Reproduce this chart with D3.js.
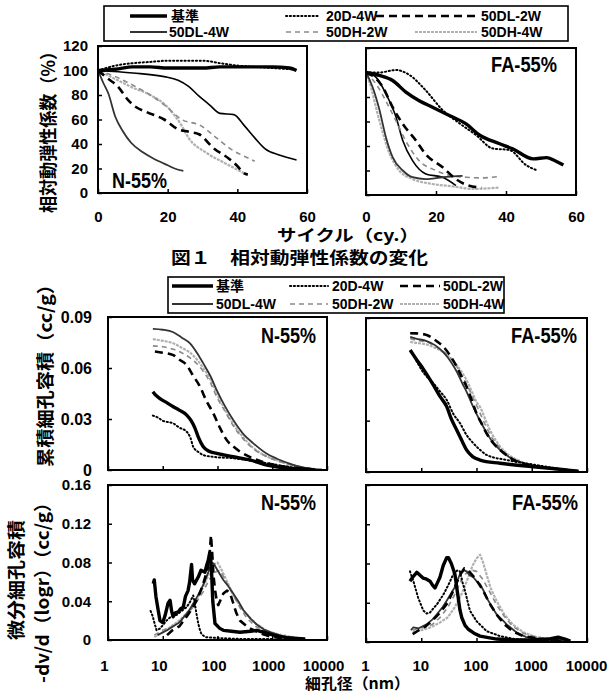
<!DOCTYPE html>
<html><head><meta charset="utf-8">
<script src="https://cdn.jsdelivr.net/npm/d3@7"></script>
<style>
body{margin:0;background:#fff;}
svg{display:block;}
.num{font-family:"Liberation Sans",Arial,sans-serif;font-weight:bold;}
.jp{font-family:"Noto Sans CJK JP","Noto Sans CJK SC",sans-serif;font-weight:bold;}
</style></head>
<body>
<script>
// ---------------- DATA ----------------
const seriesNames = ["基準","20D-4W","50DL-2W","50DL-4W","50DH-2W","50DH-4W"];
const cycleTicks = [0,20,40,60];
const rdmTicks = [0,20,40,60,80,100,120];
const cumTicks = [0,0.03,0.06,0.09];
const cumTickLabels = ["0","0.03","0.06","0.09"];
const diffTicks = [0,0.04,0.08,0.12,0.16];
const diffTickLabels = ["0","0.04","0.08","0.12","0.16"];
const poreTicks = [1,10,100,1000,10000];
const panelLabels = ["N-55%","FA-55%"];

// Fig.1 relative dynamic modulus [cycle, %]
const rdmN = {
 "基準":[[0,100],[5,101],[10,103],[15,103],[20,102],[25,102],[30,102],[35,103],[40,103],[45,103],[50,103],[55,102],[57,100]],
 "20D-4W":[[0,100],[5,104],[10,106],[15,107],[20,108],[25,108],[30,108],[35,106],[40,104],[45,103],[50,102],[56,101]],
 "50DL-2W":[[0,100],[3,93],[5.7,87],[8.6,76],[11,70],[14,66],[19,60],[23,52],[26,50],[29,48],[33,37],[37.6,28],[40,22],[42,16],[43,15]],
 "50DL-4W":[[0,100],[1.5,90],[3,81],[5,62],[7,51],[9.5,41],[13,33],[16,28],[19,24],[22,20],[24.5,18]],
 "50DH-2W":[[0,100],[5,95],[10,88],[15,80],[19,72],[24,60],[29.5,55],[34,45],[38.6,35],[42,30],[45,26]],
 "50DH-4W":[[0,100],[5,93],[10,86],[15,80],[20,70],[24,55],[26,45],[31,33],[36,25],[40,19],[42,16]]
};
const rdmNUnlabeled = [[0,100],[10,98],[19,95],[23,92],[26,87],[29,79],[32,72],[35,65],[39,64],[42,55],[45,45],[48,36],[52,31],[57,27]];
const rdmFA = {
 "基準":[[0,100],[3.8,97.6],[7.6,93.5],[11.4,84],[15.2,77],[19,71.7],[23.8,64.9],[28.6,58],[32.4,49],[38,42],[41.9,37.7],[47.8,29.5],[51.6,30.5],[54,28],[56.4,24.5]],
 "20D-4W":[[0,100],[3.8,100],[8.6,102],[12.4,98],[17,85.6],[21.9,69.3],[26.7,58.5],[31.4,49],[36.2,38],[41,36.7],[45.7,24.5],[49,20]],
 "50DL-2W":[[0,100],[2.5,96],[4.8,88],[7.6,71.7],[10.5,58],[14.3,44.4],[17,33.5],[21.9,22.6],[25.7,13],[29,8],[33,6]],
 "50DL-4W":[[0,100],[1.9,88],[3.8,70],[5.7,47],[7.6,31],[10.5,20],[13.3,14.5],[17,13],[21.9,14.5],[27.6,15.6]],
 "50DH-2W":[[0,100],[3,90],[6,75],[9,58],[11.4,44],[15.2,28],[20,20],[23.8,16],[28.6,14.5],[32.9,14],[37.6,15]],
 "50DH-4W":[[0,100],[1,92],[3.8,61],[6.7,34],[9.5,20],[13.3,13],[19,9],[24.8,7],[30.5,5],[38,6]]
};
const rdmFAUnlabeled = [[0,100],[2.9,96],[5.7,82.6],[8.6,63.5],[10.5,44.4],[13.3,28],[17.1,17.2],[21.9,14.5],[25.7,7.7]];

// cumulative pore volume [nm, cc/g]
const cumN = {
 "基準":[[6.6,0.046],[7.2,0.0445],[8.9,0.042],[12,0.0395],[15.6,0.0372],[20,0.0352],[27.4,0.0323],[33,0.029],[38.9,0.0245],[45,0.019],[55,0.0137],[70,0.011],[96.7,0.0098],[194,0.0078],[392,0.0059],[793,0.0029],[2080,0.001],[5000,0.0003]],
 "20D-4W":[[6.6,0.032],[8,0.031],[10,0.029],[15.6,0.0274],[20,0.025],[27.4,0.0225],[32,0.019],[36,0.0137],[45,0.0105],[55,0.0088],[80,0.0078],[194,0.0069],[400,0.0055],[800,0.004],[1500,0.0025],[3000,0.001],[6000,0.0003]],
 "50DL-2W":[[7.2,0.0697],[10,0.069],[15.6,0.0676],[20,0.065],[27.4,0.0617],[35,0.056],[48,0.049],[62,0.041],[84,0.0333],[110,0.025],[147,0.0176],[200,0.0135],[258,0.0108],[400,0.0075],[793,0.004],[1500,0.0022],[3000,0.001],[6000,0.0003]],
 "50DL-4W":[[6.6,0.083],[10,0.0825],[15.6,0.081],[22,0.078],[31.5,0.0745],[42,0.069],[55,0.0627],[75,0.055],[96.7,0.047],[140,0.037],[194,0.0294],[300,0.021],[451,0.0157],[800,0.0095],[1383,0.0059],[2200,0.0035],[3190,0.002],[5000,0.0008],[8000,0.0003]],
 "50DH-2W":[[6.6,0.073],[10,0.0725],[15.6,0.071],[22,0.069],[31.5,0.066],[42,0.0625],[55,0.058],[75,0.051],[96.7,0.043],[140,0.034],[194,0.026],[300,0.018],[451,0.0125],[800,0.0078],[1400,0.0048],[3000,0.002],[6000,0.0005]],
 "50DH-4W":[[6.6,0.077],[10,0.076],[15.6,0.0745],[22,0.072],[31.5,0.069],[42,0.065],[55,0.06],[75,0.053],[96.7,0.045],[140,0.035],[194,0.027],[300,0.019],[451,0.013],[800,0.008],[1400,0.005],[3000,0.002],[6000,0.0005]]
};
const cumFA = {
 "基準":[[6.3,0.0713],[7,0.069],[8.3,0.0655],[11,0.06],[16.5,0.0509],[22,0.044],[28.9,0.0382],[35,0.031],[43.8,0.0246],[55,0.018],[66,0.0129],[85,0.009],[116,0.007],[266,0.0051],[1070,0.0031],[4300,0.0012],[7000,0.0005]],
 "20D-4W":[[7,0.069],[8.5,0.064],[11,0.058],[16.5,0.0519],[22,0.047],[28.9,0.0421],[38,0.034],[50.4,0.0285],[65,0.022],[87.7,0.0168],[120,0.0125],[152,0.01],[352,0.007],[1000,0.0045],[3000,0.002],[7000,0.0005]],
 "50DL-2W":[[6.3,0.0811],[8,0.081],[12.5,0.0801],[18,0.077],[25,0.0733],[35,0.067],[43.8,0.0616],[55,0.055],[66,0.05],[82,0.042],[100,0.0343],[125,0.028],[152,0.0226],[200,0.017],[266,0.0129],[400,0.0085],[535,0.006],[1420,0.003],[4300,0.001],[7000,0.0003]],
 "50DL-4W":[[6.3,0.079],[8,0.078],[12.5,0.0765],[18,0.074],[25,0.07],[35,0.064],[45,0.058],[55,0.052],[66,0.047],[82,0.04],[100,0.034],[125,0.028],[152,0.023],[200,0.017],[266,0.013],[400,0.0085],[600,0.006],[1420,0.003],[4300,0.001],[7000,0.0003]],
 "50DH-2W":[[6.3,0.078],[8,0.077],[12.5,0.076],[18,0.0735],[25,0.0705],[35,0.066],[45,0.061],[55,0.056],[66,0.0515],[82,0.045],[100,0.039],[125,0.032],[152,0.026],[200,0.019],[266,0.014],[400,0.009],[600,0.006],[1420,0.003],[4300,0.001],[7000,0.0003]],
 "50DH-4W":[[6.3,0.076],[8,0.0755],[12.5,0.0745],[18,0.0725],[25,0.07],[35,0.066],[45,0.062],[55,0.058],[66,0.0538],[82,0.047],[100,0.041],[116,0.038],[152,0.029],[200,0.021],[266,0.015],[400,0.0095],[600,0.0065],[1420,0.003],[4300,0.001],[7000,0.0003]]
};

// differential pore volume [nm, cc/g]
const diffN = {
 "基準":[[6.7,0.058],[7,0.062],[7.5,0.045],[8.3,0.03],[8.9,0.02],[10,0.018],[11,0.025],[12.5,0.038],[13.6,0.041],[14.5,0.03],[15.5,0.024],[17,0.028],[19.3,0.029],[21,0.032],[23.7,0.034],[26,0.045],[29,0.051],[31,0.06],[33.6,0.078],[35,0.062],[38,0.058],[44.5,0.065],[50,0.072],[59,0.07],[64,0.078],[67.6,0.082],[72,0.09],[75,0.085],[78,0.07],[82,0.04],[90,0.017],[110,0.012],[128,0.01],[180,0.009],[258,0.008],[400,0.009],[520,0.01],[700,0.008],[1050,0.005],[2000,0.002],[4000,0.001]],
 "20D-4W":[[6,0.03],[6.5,0.025],[7.7,0.01],[9,0.012],[11.7,0.02],[14,0.024],[18,0.026],[22,0.03],[27.4,0.034],[32,0.04],[36,0.046],[38,0.04],[41,0.028],[44.5,0.017],[48,0.01],[51,0.006],[60,0.003],[100,0.002],[300,0.001],[1000,0.001]],
 "50DL-2W":[[12,0.005],[15,0.01],[20,0.014],[28,0.025],[36,0.034],[45,0.045],[55,0.058],[67,0.075],[72,0.09],[76,0.108],[80,0.09],[85,0.065],[90,0.052],[97,0.04],[103,0.036],[115,0.042],[128,0.048],[150,0.051],[170,0.048],[194,0.038],[220,0.028],[258,0.02],[330,0.015],[392,0.012],[600,0.007],[1000,0.003],[2000,0.001]],
 "50DL-4W":[[8,0.005],[12,0.01],[20,0.018],[30,0.03],[40,0.042],[50,0.052],[60,0.062],[70,0.072],[78,0.08],[85,0.079],[100,0.072],[128,0.062],[160,0.055],[194,0.048],[240,0.04],[296,0.031],[400,0.022],[520,0.016],[700,0.011],[1050,0.007],[1500,0.004],[2080,0.003],[4000,0.001]],
 "50DH-2W":[[7,0.005],[10,0.01],[15,0.014],[22,0.02],[30,0.028],[40,0.038],[55,0.05],[70,0.062],[90,0.07],[110,0.072],[130,0.065],[160,0.055],[200,0.045],[260,0.033],[350,0.022],[500,0.014],[800,0.008],[1500,0.004],[3000,0.002]],
 "50DH-4W":[[7,0.003],[10,0.008],[15,0.015],[20,0.02],[30,0.03],[40,0.04],[55,0.055],[70,0.068],[85,0.078],[100,0.08],[120,0.072],[150,0.06],[200,0.045],[300,0.03],[500,0.017],[800,0.009],[1500,0.005],[3000,0.002]]
};
const diffFA = {
 "基準":[[6.25,0.062],[7,0.066],[8.3,0.071],[9.5,0.068],[10.9,0.065],[12.5,0.064],[14.4,0.062],[16,0.058],[17.7,0.055],[19.5,0.06],[21.8,0.066],[25,0.078],[28.9,0.086],[31,0.086],[35,0.08],[40.7,0.069],[44,0.055],[46.7,0.045],[50,0.033],[54,0.025],[62,0.017],[71,0.013],[90,0.009],[116,0.006],[232,0.003],[500,0.002],[1000,0.002],[2000,0.003],[3000,0.005],[4000,0.003],[5000,0.001]],
 "20D-4W":[[6.25,0.072],[7.2,0.062],[8.8,0.045],[10.9,0.032],[12.5,0.029],[14.4,0.03],[17,0.035],[19,0.038],[25,0.048],[30.9,0.058],[38,0.069],[45,0.073],[50,0.072],[55,0.062],[62,0.052],[70,0.04],[76,0.032],[101,0.021],[153,0.011],[266,0.006],[500,0.003],[1000,0.002],[3000,0.001]],
 "50DL-2W":[[7,0.008],[9,0.012],[12,0.016],[16,0.022],[22,0.03],[30,0.04],[40,0.055],[50,0.068],[60,0.075],[70,0.073],[85,0.068],[100,0.063],[130,0.053],[170,0.04],[230,0.028],[320,0.018],[450,0.011],[700,0.006],[1500,0.003],[4000,0.001]],
 "50DL-4W":[[6.5,0.012],[7.2,0.015],[9,0.014],[12.5,0.018],[16,0.023],[19,0.028],[24,0.035],[28.9,0.042],[35,0.05],[40.7,0.056],[50,0.069],[60,0.073],[66,0.072],[75,0.068],[87.7,0.066],[100,0.062],[116,0.059],[135,0.052],[153,0.045],[190,0.036],[232,0.028],[300,0.022],[352,0.018],[450,0.013],[535,0.0095],[800,0.005],[1500,0.003],[3000,0.002],[5000,0.001]],
 "50DH-2W":[[7,0.012],[9,0.014],[12,0.015],[16,0.018],[22,0.025],[30,0.035],[40,0.048],[55,0.065],[70,0.072],[85,0.073],[100,0.072],[130,0.064],[170,0.052],[230,0.038],[320,0.026],[450,0.016],[700,0.009],[1200,0.005],[3000,0.002]],
 "50DH-4W":[[7,0.01],[10,0.012],[15,0.015],[22,0.02],[30,0.025],[40,0.035],[55,0.05],[70,0.065],[85,0.078],[100,0.085],[116,0.089],[130,0.082],[150,0.07],[180,0.055],[230,0.042],[320,0.028],[450,0.018],[700,0.01],[1200,0.005],[3000,0.002]]
};

// ---------------- STYLES ----------------
const style = {
 "基準":{stroke:"#000",width:3.4,dash:null},
 "20D-4W":{stroke:"#000",width:2,dash:"1.2,2.6",cap:"round"},
 "50DL-2W":{stroke:"#000",width:2.6,dash:"8,5"},
 "50DL-4W":{stroke:"#333",width:1.8,dash:null},
 "50DH-2W":{stroke:"#8a8a8a",width:1.6,dash:"5,4"},
 "50DH-4W":{stroke:"#b0b0b0",width:2.2,dash:"3,1"},
 "unlabeled":{stroke:"#000",width:1.6,dash:null}
};

const W=611,H=693;
const svg=d3.select("body").append("svg").attr("width",W).attr("height",H);

function applyStyle(sel,s){
  sel.attr("fill","none").attr("stroke",s.stroke).attr("stroke-width",s.width)
     .attr("stroke-linejoin","round");
  if(s.dash) sel.attr("stroke-dasharray",s.dash);
  if(s.cap) sel.attr("stroke-linecap",s.cap);
}

function panel(opt){
  const g=svg.append("g");
  const x=opt.x, y=opt.y;
  const line=d3.line().x(d=>x(d[0])).y(d=>y(d[1])).curve(opt.curve||d3.curveLinear);
  const clipId="c"+Math.random().toString(36).slice(2);
  g.append("clipPath").attr("id",clipId).append("rect")
    .attr("x",x.range()[0]).attr("y",y.range()[1]).attr("width",x.range()[1]-x.range()[0]).attr("height",y.range()[0]-y.range()[1]);
  const lines=g.append("g").attr("clip-path",`url(#${clipId})`);
  const order=["50DH-4W","50DH-2W","50DL-4W","50DL-2W","20D-4W","基準"];
  if(opt.extra) applyStyle(lines.append("path").attr("d",line(opt.extra)),style.unlabeled);
  order.forEach(k=>{ if(opt.data[k]) applyStyle(lines.append("path").attr("d",line(opt.data[k])),style[k]); });
  // axes (inward ticks)
  const ay=d3.axisLeft(y).tickValues(opt.yTicks).tickSize(-4).tickPadding(opt.yPad||10)
      .tickFormat(opt.yLabels?((d,i)=>opt.yLabels[i]):()=>"");
  const gy=g.append("g").attr("transform",`translate(${x.range()[0]},0)`).call(ay);
  const ax=d3.axisBottom(x).tickValues(opt.xTicks).tickSize(-4).tickPadding(opt.xPad||20)
      .tickFormat(opt.xLabels?(d=>opt.xLabels(d)):()=>"");
  const gx=g.append("g").attr("transform",`translate(0,${y.range()[0]})`).call(ax);
  [gx,gy].forEach(a=>{a.select(".domain").remove();
    a.selectAll("line").attr("stroke","#000").attr("stroke-width",1.5);
    a.selectAll("text").attr("class","num").attr("font-size",opt.fs||16).attr("fill","#000");});
  if(opt.xShift) gx.selectAll("text").attr("dx",opt.xShift);
  // frame
  g.append("rect").attr("x",x.range()[0]).attr("y",y.range()[1])
   .attr("width",x.range()[1]-x.range()[0]).attr("height",y.range()[0]-y.range()[1])
   .attr("fill","none").attr("stroke","#000").attr("stroke-width",2);
  // label
  if(opt.label){
    g.append("text").attr("class","num").attr("font-size",22)
     .attr("x",opt.labelPos[0]).attr("y",opt.labelPos[1]).attr("text-anchor",opt.labelAnchor||"end")
     .attr("textLength",opt.label.length*11).attr("lengthAdjust","spacingAndGlyphs")
     .text(opt.label);
  }
  return g;
}

// ---------- Fig 1 ----------
const yTopL=d3.scaleLinear().domain([0,120]).range([193,46]);
const yTopR=d3.scaleLinear().domain([0,120]).range([195,48]);
const xTopL=d3.scaleLinear().domain([0,60]).range([98,307]);
const xTopR=d3.scaleLinear().domain([0,60]).range([366,576]);
panel({x:xTopL,y:yTopL,data:rdmN,extra:rdmNUnlabeled,curve:d3.curveMonotoneX,fs:15,
  yTicks:rdmTicks,yLabels:rdmTicks.map(String),yPad:10,xTicks:cycleTicks,xLabels:d=>String(d),xPad:18,
  label:panelLabels[0],labelPos:[112,188],labelAnchor:"start"});
panel({x:xTopR,y:yTopR,data:rdmFA,extra:rdmFAUnlabeled,curve:d3.curveMonotoneX,fs:15,
  yTicks:rdmTicks,xTicks:cycleTicks,xLabels:d=>String(d),xPad:16,
  label:panelLabels[1],labelPos:[557,72]});

// ---------- Fig 2 ----------
const xL=d3.scaleLog().domain([1,10000]).range([108,327]);
const xR=d3.scaleLog().domain([1,10000]).range([366,587]);
const yCumL=d3.scaleLinear().domain([0,0.09]).range([470,317]);
const yCumR=d3.scaleLinear().domain([0,0.09]).range([472,318]);
const yDifL=d3.scaleLinear().domain([0,0.16]).range([640,485]);
const yDifR=d3.scaleLinear().domain([0,0.16]).range([642,485]);
panel({x:xL,y:yCumL,data:cumN,curve:d3.curveMonotoneX,yTicks:cumTicks,yLabels:cumTickLabels,yPad:16,
  xTicks:poreTicks,label:panelLabels[0],labelPos:[316,343]});
panel({x:xR,y:yCumR,data:cumFA,curve:d3.curveMonotoneX,yTicks:cumTicks,
  xTicks:poreTicks,label:panelLabels[1],labelPos:[577,343]});
panel({x:xL,y:yDifL,data:diffN,yTicks:diffTicks,yLabels:diffTickLabels,yPad:17,fs:15,
  xTicks:poreTicks,xLabels:d=>String(d),xPad:20,xShift:-4,label:panelLabels[0],labelPos:[316,510]});
panel({x:xR,y:yDifR,data:diffFA,yTicks:diffTicks,fs:15,
  xTicks:poreTicks,xLabels:d=>String(d),xPad:18,xShift:-1,label:panelLabels[1],labelPos:[578,510]});

// ---------- Legends ----------
function legend(box,items){
  svg.append("rect").attr("x",box.x).attr("y",box.y).attr("width",box.w).attr("height",box.h)
    .attr("fill","#fff").attr("stroke","#000").attr("stroke-width",1.6);
  items.forEach(it=>{
    applyStyle(svg.append("line").attr("x1",it.x1).attr("x2",it.x2).attr("y1",it.y).attr("y2",it.y),style[it.k]);
    svg.append("text").attr("class",it.k==="基準"?"jp":"num").attr("font-size",box.fs)
      .attr("x",it.tx).attr("y",it.y+5).text(it.k);
  });
}
legend({x:104,y:6,w:464,h:35,fs:14},[
 {k:seriesNames[0],x1:130,x2:167,tx:171,y:16},
 {k:seriesNames[1],x1:286,x2:320,tx:326,y:16},
 {k:seriesNames[2],x1:376,x2:479,tx:481,y:16},
 {k:seriesNames[3],x1:130,x2:167,tx:169,y:32},
 {k:seriesNames[4],x1:286,x2:322,tx:326,y:32},
 {k:seriesNames[5],x1:415,x2:477,tx:481,y:32}
]);
legend({x:168,y:277,w:336,h:36,fs:14},[
 {k:seriesNames[0],x1:172,x2:213,tx:216,y:286},
 {k:seriesNames[1],x1:290,x2:328,tx:332,y:286},
 {k:seriesNames[2],x1:400,x2:440,tx:443,y:286},
 {k:seriesNames[3],x1:172,x2:213,tx:216,y:304},
 {k:seriesNames[4],x1:290,x2:328,tx:332,y:304},
 {k:seriesNames[5],x1:400,x2:440,tx:443,y:304}
]);

// ---------- Titles ----------
function vtext(txt,cx,cy,len,fs){
  svg.append("text").attr("class","jp").attr("font-size",fs)
    .attr("transform",`translate(${cx},${cy}) rotate(-90)`).attr("text-anchor","middle")
    .attr("dy","0.35em").attr("textLength",len).attr("lengthAdjust","spacingAndGlyphs").text(txt);
}
vtext("相対動弾性係数（%）",49,128,170,18);
vtext("累積細孔容積（cc/g）",46,371,192,18);
vtext("微分細孔容積",17,580,120,18);
vtext("-dv/d（logr）（cc/g）",43,588,190,18);
svg.append("text").attr("class","jp").attr("font-size",16).attr("x",277).attr("y",241)
  .attr("textLength",142).attr("lengthAdjust","spacingAndGlyphs").text("サイクル（cy.）");
svg.append("text").attr("class","jp").attr("font-size",17).attr("x",171).attr("y",264)
  .attr("textLength",257).attr("lengthAdjust","spacingAndGlyphs").text("図１　相対動弾性係数の変化");
svg.append("text").attr("class","jp").attr("font-size",15).attr("x",305).attr("y",689)
  .attr("textLength",105).attr("lengthAdjust","spacingAndGlyphs").text("細孔径（nm）");
</script>
</body></html>
